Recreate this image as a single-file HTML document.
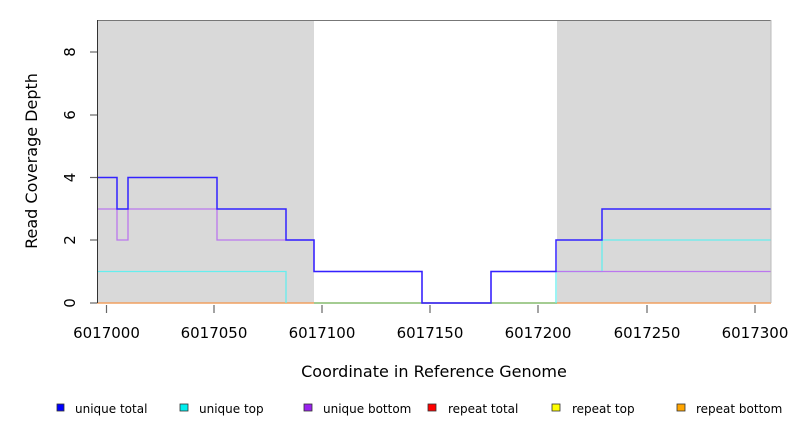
<!DOCTYPE html>
<html><head><style>body{margin:0;background:#fff}svg{display:block}</style></head><body>
<svg width="792" height="432" xmlns="http://www.w3.org/2000/svg" font-family="DejaVu Sans, sans-serif">
<rect x="97" y="20" width="217" height="283" fill="#d9d9d9"/>
<rect x="557" y="20" width="214" height="283" fill="#d9d9d9"/>
<line x1="97" y1="303" x2="771" y2="303" stroke="#f0a060" stroke-width="1.5"/>
<line x1="314" y1="303" x2="557" y2="303" stroke="#88cc88" stroke-width="1.5"/>
<polyline fill="none" stroke="#66eeee" stroke-width="1.3" points="97,271.5 286,271.5 286,303"/>
<polyline fill="none" stroke="#66eeee" stroke-width="1.3" points="556,303 556,271.5 602,271.5 602,240 771,240"/>
<polyline fill="none" stroke="#bb77ee" stroke-width="1.3" points="97,209 117,209 117,240 128,240 128,209 217,209 217,240 314,240 314,271.5 422,271.5 422,303 491,303 491,271.5 771,271.5"/>
<polyline fill="none" stroke="#3322ff" stroke-width="1.5" points="97,177.5 117,177.5 117,209 128,209 128,177.5 217,177.5 217,209 286,209 286,240 314,240 314,271.5 422,271.5 422,303 491,303 491,271.5 556,271.5 556,240 602,240 602,209 771,209"/>
<line x1="97" y1="20.5" x2="771" y2="20.5" stroke="#777"/>
<line x1="771" y1="20" x2="771" y2="303" stroke="#bbb"/>
<line x1="97.5" y1="20" x2="97.5" y2="303" stroke="#333"/>
<g stroke="#666" stroke-width="1.2">
<line x1="90" y1="303" x2="97" y2="303"/><line x1="90" y1="240" x2="97" y2="240"/><line x1="90" y1="177.5" x2="97" y2="177.5"/><line x1="90" y1="115" x2="97" y2="115"/><line x1="90" y1="52" x2="97" y2="52"/>
<line x1="106.5" y1="305" x2="106.5" y2="313"/><line x1="214" y1="305" x2="214" y2="313"/><line x1="322" y1="305" x2="322" y2="313"/><line x1="430" y1="305" x2="430" y2="313"/><line x1="538" y1="305" x2="538" y2="313"/><line x1="647" y1="305" x2="647" y2="313"/><line x1="755" y1="305" x2="755" y2="313"/>
</g>
<g font-size="15" fill="#000" text-anchor="middle">
<text transform="translate(75,303) rotate(-90)">0</text>
<text transform="translate(75,240) rotate(-90)">2</text>
<text transform="translate(75,177.5) rotate(-90)">4</text>
<text transform="translate(75,115) rotate(-90)">6</text>
<text transform="translate(75,52) rotate(-90)">8</text>
<text x="106.5" y="338">6017000</text><text x="214" y="338">6017050</text><text x="322" y="338">6017100</text><text x="430" y="338">6017150</text><text x="538" y="338">6017200</text><text x="647" y="338">6017250</text><text x="755" y="338">6017300</text>
<text x="434" y="377" font-size="16">Coordinate in Reference Genome</text>
<text transform="translate(37,161) rotate(-90)" font-size="16">Read Coverage Depth</text>
</g>
<g font-size="12" fill="#000" stroke="#333" stroke-width="0.8">
<rect x="57" y="404" width="7" height="7" fill="#0000ff"/><text x="75" y="413" stroke="none">unique total</text>
<rect x="180" y="404" width="8" height="7" fill="#00eeee"/><text x="199" y="413" stroke="none">unique top</text>
<rect x="304" y="404" width="8" height="7" fill="#9922ee"/><text x="323" y="413" stroke="none">unique bottom</text>
<rect x="428" y="404" width="8" height="7" fill="#ff0000"/><text x="448" y="413" stroke="none">repeat total</text>
<rect x="552" y="404" width="8" height="7" fill="#ffff00"/><text x="572" y="413" stroke="none">repeat top</text>
<rect x="677" y="404" width="8" height="7" fill="#ffa500"/><text x="696" y="413" stroke="none">repeat bottom</text>
</g>
</svg>
</body></html>
